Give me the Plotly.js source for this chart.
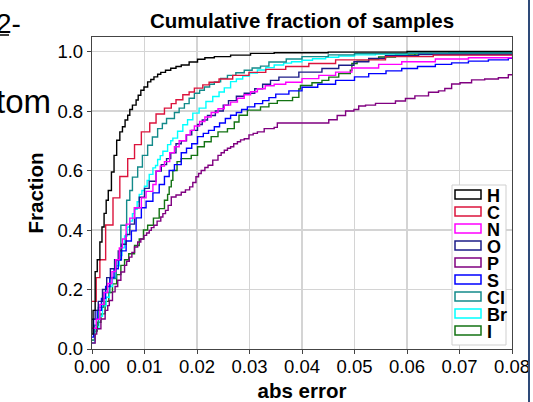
<!DOCTYPE html>
<html>
<head>
<meta charset="utf-8">
<script src="https://cdn.plot.ly/plotly-3.0.1.min.js"></script>
<style>html,body{margin:0;padding:0;background:#fff;}#chart{width:533px;height:402px;}</style>
</head>
<body>
<div id="chart"></div>
<script>
// ---- data ----
const elements = ["H", "C", "N", "O", "P", "S", "Cl", "Br", "I"];
const colors = ["#000000", "#dc143c", "#ff00ff", "#1c1c88", "#800080", "#0000ff", "#138a8a", "#00ffff", "#137313"];
const xTicks = [0, 0.01, 0.02, 0.03, 0.04, 0.05, 0.06, 0.07, 0.08];
const yTicks = [0, 0.2, 0.4, 0.6, 0.8, 1.0];

const H_x = [0,0.0002,0.0006,0.001,0.0015,0.0019,0.0023,0.0027,0.0031,0.0037,0.0042,0.0047,0.0053,0.0058,0.0063,0.0068,0.0072,0.0077,0.0084,0.0088,0.0093,0.0099,0.0106,0.0112,0.0118,0.0125,0.0131,0.014,0.015,0.016,0.017,0.0185,0.0201,0.0215,0.0233,0.0264,0.0302,0.0347,0.045,0.06,0.08];
const H_y = [0.05,0.13,0.26,0.30,0.36,0.41,0.456,0.50,0.533,0.595,0.651,0.702,0.73,0.747,0.77,0.786,0.805,0.82,0.837,0.853,0.87,0.881,0.898,0.906,0.915,0.924,0.93,0.937,0.944,0.95,0.955,0.965,0.974,0.979,0.983,0.988,0.994,0.996,0.998,1.0,1.0];

const C_x = [0,0.0008,0.0015,0.0026,0.004,0.0053,0.0068,0.0081,0.0094,0.011,0.0122,0.0138,0.0151,0.016,0.0173,0.0185,0.0195,0.0211,0.0223,0.0242,0.0268,0.0299,0.0331,0.0369,0.0413,0.0464,0.0559,0.065,0.08];
const C_y = [0.16,0.24,0.30,0.417,0.508,0.58,0.64,0.687,0.73,0.76,0.79,0.81,0.825,0.838,0.855,0.864,0.877,0.888,0.897,0.908,0.92,0.93,0.94,0.95,0.96,0.972,0.983,0.988,0.99];

const N_x = [0,0.0008,0.0015,0.0023,0.003,0.0038,0.0045,0.0052,0.0058,0.0065,0.0072,0.0081,0.0094,0.0103,0.0116,0.0122,0.013,0.0138,0.0148,0.0157,0.0166,0.0179,0.0187,0.0195,0.0205,0.0215,0.0227,0.024,0.0252,0.0264,0.0277,0.029,0.0302,0.0315,0.033,0.0347,0.0369,0.04,0.0432,0.0464,0.0495,0.0546,0.059,0.0654,0.0717,0.08];
const N_y = [0.07,0.1,0.15,0.19,0.22,0.26,0.3,0.34,0.37,0.42,0.44,0.475,0.508,0.53,0.553,0.598,0.615,0.63,0.66,0.68,0.7,0.72,0.735,0.75,0.765,0.78,0.795,0.808,0.82,0.83,0.843,0.855,0.865,0.875,0.885,0.89,0.897,0.909,0.92,0.931,0.945,0.957,0.966,0.975,0.979,0.983];

const O_x = [0,0.0006,0.0012,0.002,0.0028,0.0035,0.0043,0.005,0.0056,0.0065,0.0072,0.0081,0.009,0.01,0.0109,0.0122,0.0132,0.0142,0.015,0.016,0.017,0.018,0.019,0.0201,0.021,0.022,0.0235,0.025,0.026,0.0275,0.029,0.031,0.0325,0.034,0.0356,0.0394,0.0438,0.047,0.0499,0.0527,0.0559,0.0622,0.08];
const O_y = [0.1,0.13,0.16,0.2,0.24,0.27,0.3,0.33,0.352,0.385,0.42,0.475,0.51,0.54,0.564,0.598,0.62,0.64,0.66,0.69,0.70,0.72,0.735,0.755,0.77,0.785,0.8,0.82,0.835,0.85,0.86,0.875,0.89,0.903,0.914,0.931,0.943,0.954,0.966,0.977,0.986,0.99,0.992];

const P_x = [0,0.0006,0.0009,0.0017,0.0025,0.003,0.0033,0.0039,0.0044,0.0049,0.0055,0.0062,0.0066,0.0071,0.0076,0.0081,0.0087,0.0093,0.0099,0.0104,0.0109,0.0113,0.0118,0.0124,0.0131,0.0135,0.014,0.0145,0.0151,0.016,0.017,0.0178,0.0186,0.0192,0.0198,0.0203,0.0208,0.0215,0.0221,0.023,0.024,0.0246,0.0252,0.0258,0.0264,0.027,0.0277,0.0283,0.029,0.0299,0.0307,0.0315,0.0328,0.0347,0.0353,0.0451,0.0467,0.0483,0.0499,0.0508,0.0521,0.054,0.0578,0.0597,0.0615,0.0641,0.066,0.0672,0.0685,0.0701,0.0723,0.0748,0.0774,0.0793,0.08];
const P_y = [0.02,0.05,0.068,0.101,0.13,0.146,0.163,0.192,0.21,0.231,0.259,0.281,0.295,0.309,0.325,0.343,0.36,0.37,0.382,0.39,0.399,0.408,0.416,0.43,0.444,0.455,0.466,0.483,0.511,0.518,0.527,0.535,0.545,0.56,0.579,0.59,0.6,0.61,0.618,0.635,0.651,0.66,0.668,0.675,0.68,0.69,0.697,0.703,0.707,0.72,0.725,0.73,0.741,0.745,0.76,0.771,0.785,0.8,0.805,0.817,0.82,0.826,0.834,0.842,0.851,0.863,0.868,0.876,0.891,0.895,0.905,0.908,0.912,0.922,0.922];

const S_x = [0,0.0003,0.001,0.0018,0.0026,0.0034,0.0042,0.005,0.0056,0.0065,0.0075,0.0084,0.0094,0.0103,0.0116,0.0128,0.0138,0.0147,0.0157,0.017,0.018,0.019,0.0201,0.0212,0.0222,0.0233,0.0243,0.0254,0.0264,0.0275,0.0285,0.0296,0.031,0.0325,0.0337,0.035,0.0375,0.04,0.043,0.0464,0.05,0.0527,0.056,0.059,0.062,0.0654,0.0685,0.0717,0.0755,0.0793,0.08];
const S_y = [0.04,0.1,0.13,0.17,0.21,0.24,0.27,0.3,0.33,0.363,0.397,0.441,0.475,0.497,0.525,0.553,0.58,0.6,0.62,0.66,0.675,0.69,0.714,0.725,0.735,0.747,0.76,0.775,0.786,0.795,0.805,0.814,0.825,0.835,0.845,0.857,0.868,0.88,0.89,0.903,0.915,0.926,0.935,0.943,0.95,0.957,0.962,0.968,0.972,0.977,0.977];

const Cl_x = [0,0.0005,0.0012,0.0022,0.0034,0.0046,0.0055,0.0066,0.0072,0.0077,0.0087,0.0096,0.0106,0.0115,0.0125,0.0134,0.0142,0.0157,0.0166,0.0176,0.0185,0.0195,0.0205,0.0214,0.0224,0.0233,0.0245,0.0258,0.0274,0.029,0.0305,0.0321,0.0337,0.037,0.04,0.045,0.05,0.06,0.08];
const Cl_y = [0.03,0.08,0.14,0.19,0.237,0.298,0.416,0.5,0.533,0.578,0.612,0.651,0.685,0.713,0.741,0.758,0.775,0.795,0.81,0.825,0.843,0.86,0.87,0.881,0.89,0.898,0.91,0.92,0.929,0.937,0.945,0.951,0.965,0.975,0.983,0.989,0.993,0.995,0.996];

const Br_x = [0,0.0005,0.0013,0.002,0.0027,0.0033,0.0039,0.0046,0.0052,0.0057,0.0062,0.0067,0.0072,0.0077,0.0081,0.0086,0.009,0.0095,0.01,0.0105,0.0109,0.0116,0.0121,0.0125,0.013,0.0135,0.0144,0.015,0.0154,0.0163,0.0173,0.0182,0.0192,0.0204,0.0217,0.023,0.0242,0.0252,0.0264,0.0275,0.0287,0.03,0.0315,0.0331,0.0347,0.0365,0.038,0.04,0.042,0.0445,0.047,0.05,0.054,0.06,0.068,0.08];
const Br_y = [0.02,0.068,0.11,0.145,0.174,0.21,0.241,0.28,0.314,0.34,0.38,0.41,0.43,0.455,0.47,0.495,0.52,0.533,0.547,0.567,0.587,0.609,0.617,0.637,0.65,0.665,0.687,0.7,0.709,0.732,0.754,0.771,0.793,0.81,0.832,0.849,0.864,0.878,0.899,0.908,0.918,0.928,0.938,0.946,0.955,0.961,0.966,0.971,0.976,0.981,0.985,0.989,0.992,0.994,0.996,0.997];

const I_x = [0,0.0005,0.001,0.0017,0.0025,0.0032,0.0039,0.0047,0.0055,0.0062,0.007,0.0081,0.009,0.0098,0.0106,0.0117,0.0128,0.0138,0.0144,0.0147,0.0151,0.0154,0.0162,0.017,0.0189,0.0201,0.0214,0.0227,0.024,0.0258,0.0271,0.028,0.0296,0.0321,0.0337,0.0353,0.0382,0.0394,0.0397,0.0419,0.0438,0.0451,0.047,0.0492,0.0495,0.0505,0.0527,0.0546,0.0578,0.0615,0.068,0.08];
const I_y = [0.03,0.06,0.09,0.118,0.16,0.19,0.219,0.25,0.281,0.3,0.32,0.348,0.37,0.4,0.416,0.44,0.472,0.5,0.52,0.545,0.567,0.6,0.63,0.64,0.651,0.68,0.697,0.714,0.73,0.741,0.763,0.786,0.803,0.814,0.826,0.835,0.846,0.874,0.886,0.895,0.903,0.914,0.926,0.937,0.96,0.968,0.975,0.982,0.989,0.992,0.995,0.995];

const seriesX = [H_x, C_x, N_x, O_x, P_x, S_x, Cl_x, Br_x, I_x];
const seriesY = [H_y, C_y, N_y, O_y, P_y, S_y, Cl_y, Br_y, I_y];

// ---- figure geometry (pixels) ----
const W = 533, HGT = 402;
const M = {l: 92, r: 21, t: 37, b: 53};
const PW = W - M.l - M.r, PH = HGT - M.t - M.b;
const px2x = p => (p - M.l) / PW;            // pixel -> paper x
const px2y = p => (HGT - M.b - p) / PH;      // pixel -> paper y

const FONT = "Liberation Sans, Arial, Helvetica, sans-serif";

// draw order: H on top
const order = [8, 7, 6, 5, 4, 3, 2, 1, 0];
const traces = order.map(i => ({
  type: "scatter", mode: "lines",
  x: seriesX[i], y: seriesY[i], name: elements[i],
  line: {color: colors[i], width: 1.4, shape: "hv"},
  showlegend: false, hoverinfo: "skip"
}));

// ---- custom legend (outlined rectangles + bold labels) ----
const shapes = [];
const annotations = [];
const legTop = 185, legBot = 345, legL = 452, legR = 506;
shapes.push({type: "rect", xref: "paper", yref: "paper",
  x0: px2x(legL), x1: px2x(legR), y0: px2y(legBot), y1: px2y(legTop),
  line: {color: "#cfcfcf", width: 1}, fillcolor: "#ffffff", layer: "above"});
elements.forEach((el, i) => {
  const cy = 194.5 + i * 17;
  shapes.push({type: "rect", xref: "paper", yref: "paper",
    x0: px2x(455), x1: px2x(481), y0: px2y(cy + 4.5), y1: px2y(cy - 4.5),
    line: {color: colors[i], width: 1.5}, fillcolor: "rgba(0,0,0,0)", layer: "above"});
  annotations.push({xref: "paper", yref: "paper", x: px2x(485), y: px2y(cy + 1),
    xanchor: "left", yanchor: "middle", showarrow: false, text: el,
    font: {family: FONT, size: 18, color: "#000", weight: 700}});
});

// slide artefacts around the chart
annotations.push({xref: "paper", yref: "paper", x: px2x(-6), y: px2y(24), xanchor: "left", yanchor: "middle",
  showarrow: false, text: "2-", font: {family: FONT, size: 28, color: "#000"}});
annotations.push({xref: "paper", yref: "paper", x: px2x(-6), y: px2y(101), xanchor: "left", yanchor: "middle",
  showarrow: false, text: "tom", font: {family: FONT, size: 33, color: "#000"}});
shapes.push({type: "line", xref: "paper", yref: "paper", x0: px2x(0), x1: px2x(9), y0: px2y(35), y1: px2y(35),
  line: {color: "#000", width: 1.5}});
shapes.push({type: "line", xref: "paper", yref: "paper", x0: px2x(529), x1: px2x(529), y0: px2y(0), y1: px2y(HGT),
  line: {color: "#2e4a78", width: 2}});

const layout = {
  width: W, height: HGT,
  margin: M,
  paper_bgcolor: "#ffffff", plot_bgcolor: "#ffffff",
  font: {family: FONT, size: 18, color: "#000"},
  title: {text: "Cumulative fraction of samples", x: 0.5, xref: "paper", xanchor: "center",
          y: 1 - 21 / HGT, yref: "container", yanchor: "middle",
          font: {family: FONT, size: 20.5, color: "#000", weight: 700}},
  xaxis: {range: [0, 0.08], tickvals: xTicks, ticktext: xTicks.map(v => v.toFixed(2)),
          showgrid: true, gridcolor: "#d4d4d4", gridwidth: 1.2,
          showline: true, linecolor: "#444", linewidth: 1.2, mirror: true,
          ticks: "outside", ticklen: 4, tickcolor: "#444", zeroline: false,
          ticklabelstandoff: -3,
          tickfont: {family: FONT, size: 18.5, color: "#000"},
          title: {text: "abs error", standoff: 22, font: {family: FONT, size: 20.5, color: "#000", weight: 700}}},
  yaxis: {range: [0, 1.049], tickvals: yTicks, ticktext: yTicks.map(v => v.toFixed(1)),
          showgrid: true, gridcolor: "#d4d4d4", gridwidth: 1.2,
          showline: true, linecolor: "#444", linewidth: 1.2, mirror: true,
          ticks: "outside", ticklen: 4, tickcolor: "#444", zeroline: false,
          tickfont: {family: FONT, size: 18.5, color: "#000"},
          title: {text: "Fraction", standoff: 8, font: {family: FONT, size: 20.5, color: "#000", weight: 700}}},
  shapes: shapes,
  annotations: annotations,
  showlegend: false
};

Plotly.newPlot("chart", traces, layout, {staticPlot: true, displayModeBar: false});
</script>
</body>
</html>
